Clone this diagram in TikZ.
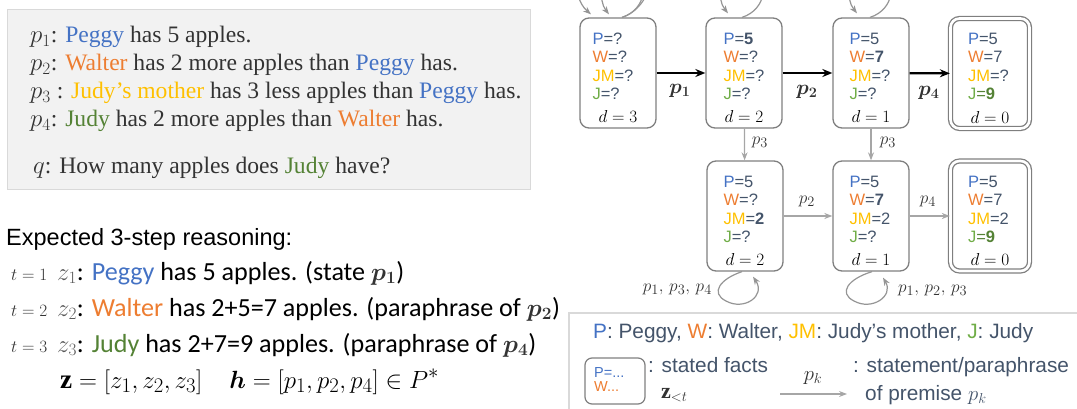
\documentclass[tikz,border=0pt]{standalone}
\usepackage{fontspec}
\usepackage{amsmath,bm}
\setmainfont{Liberation Serif}
\newfontfamily\arial{Liberation Sans}
\newfontfamily\calib{Carlito}
\usetikzlibrary{arrows.meta}

\definecolor{cP}{HTML}{4472C4}
\definecolor{cW}{HTML}{ED7D31}
\definecolor{cJM}{HTML}{FFC000}
\definecolor{cJ}{HTML}{70AD47}
\definecolor{cJd}{HTML}{548235}
\definecolor{cText}{HTML}{333333}
\definecolor{cSlate}{HTML}{44546A}
\definecolor{cGray}{HTML}{595959}
\definecolor{cBox}{HTML}{7F7F7F}
\definecolor{cArrow}{HTML}{A6A6A6}
\definecolor{cFrame}{HTML}{D9D9D9}
\definecolor{cBg}{HTML}{F2F2F2}

% one state box: name, left indent, P, W, JM, J, d
\newcommand\statefacts[7]{%
  \path ([shift={(#2,27)}]#1.north west) node[fact] (#1-p) {\textcolor{cP}{P}=#3}
        ([shift={(#2,45)}]#1.north west) node[fact] (#1-w) {\textcolor{cW}{W}=#4}
        ([shift={(#2,64)}]#1.north west) node[fact] (#1-jm) {\textcolor{cJM}{JM}=#5}
        ([shift={(#2,82)}]#1.north west) node[fact] (#1-j) {\textcolor{cJ}{J}#6}
        ([shift={(0,-6)}]#1.south) node[dline] (#1-d) {$d=#7$};
}

\begin{document}
\begin{tikzpicture}[x=1pt,y=-1pt,
  premise/.style={draw=cFrame, line width=1.2, fill=cBg, anchor=north west,
    minimum width=523, minimum height=180, inner sep=0},
  prem/.style={anchor=base west, inner sep=0, text=cText,
    font=\fontsize{23.6}{27}\selectfont},
  expl/.style={anchor=base west, inner sep=0, font=\arial\fontsize{23.5}{27}\selectfont},
  tlab/.style={anchor=base west, inner sep=0, text=cText, font=\fontsize{16}{16}\selectfont},
  zrow/.style={anchor=base west, inner sep=0, font=\calib\fontsize{26.1}{30}\selectfont},
  state/.style={draw=cBox, line width=1.3, rounded corners=9,
    minimum width=76, minimum height=110, inner sep=0},
  final/.style={state, double, double distance=2.6, minimum width=79, minimum height=110},
  fact/.style={anchor=base west, inner sep=0, text=cSlate,
    font=\arial\fontsize{16.5}{16.5}\selectfont},
  dline/.style={anchor=base, inner sep=0, font=\fontsize{17.5}{17.5}\selectfont},
  mainstep/.style={line width=2.2, -{Stealth[length=10pt,width=8pt]}},
  alt/.style={draw=cArrow, line width=1.2, -{Stealth[length=8pt,width=6pt]}},
  selfloop/.style={draw=cArrow!90!black, line width=1.2, -{Stealth[length=8pt,width=6pt]}},
  plab/.style={inner sep=0, text=cText, font=\fontsize{19}{19}\selectfont},
  leg/.style={anchor=base west, inner sep=0, text=cSlate,
    font=\arial\fontsize{20.8}{24}\selectfont}]

\useasboundingbox (0,0) rectangle (1077,409);
\clip (0,0) rectangle (1077,409);

% premises and question
\node[premise] (prem) at (7,9) {};
\node[prem] (l1) at (30,43) {$p_1$: \textcolor{cP}{Peggy} has 5 apples.};
\node[prem] (l2) at (30,71) {$p_2$: \textcolor{cW}{Walter} has 2 more apples than \textcolor{cP}{Peggy} has.};
\node[prem] (l3) at (30,99) {$p_3$ : \textcolor{cJM}{Judy’s mother} has 3 less apples than \textcolor{cP}{Peggy} has.};
\node[prem] (l4) at (30,127) {$p_4$: \textcolor{cJd}{Judy} has 2 more apples than \textcolor{cW}{Walter} has.};
\node[prem] (lq) at (33,174) {$q$: How many apples does \textcolor{cJd}{Judy} have?};

% expected reasoning
\node[expl] (ex) at (6,245) {Expected 3-step reasoning:};
\node[tlab] (t1) at (11,280) {$t=1$};
\node[tlab] (t2) at (11,316) {$t=2$};
\node[tlab] (t3) at (11,352) {$t=3$};
\node[zrow] (z1) at (57,280) {{\color{cGray}$z_1$}: \textcolor{cP}{Peggy} has 5 apples. (state {\color{cText}$\bm{p_1}$})};
\node[zrow] (z2) at (57,316) {{\color{cGray}$z_2$}: \textcolor{cW}{Walter} has 2+5=7 apples. (paraphrase of {\color{cText}$\bm{p_2}$})};
\node[zrow] (z3) at (57,352) {{\color{cGray}$z_3$}: \textcolor{cJd}{Judy} has 2+7=9 apples. (paraphrase of {\color{cText}$\bm{p_4}$})};
\node[anchor=base west, inner sep=0, font=\fontsize{27.2}{27.2}\selectfont] (zh) at (60,388)
  {$\mathbf{z}=[z_1,z_2,z_3]\quad \bm{h}=[p_1,p_2,p_4]\in P^{*}$};

% state boxes, first row
\node[state] (s1) at (618,73) {};
\node[state] (s2) at (744,73) {};
\node[state] (s3) at (871,73) {};
\node[final] (s4) at (990,73.5) {};
% state boxes, second row
\node[state] (s5) at (745,216) {};
\node[state] (s6) at (871,216) {};
\node[final] (s7) at (990,216) {};

\statefacts{s1}{13}{?}{?}{?}{=?}{3}
\statefacts{s2}{18}{\textbf{5}}{?}{?}{=?}{2}
\statefacts{s3}{17}{5}{\textbf{7}}{?}{=?}{1}
\statefacts{s4}{18}{5}{7}{?}{\textcolor{cJd}{=\textbf{9}}}{0}
\statefacts{s5}{17}{5}{?}{\textbf{2}}{=?}{2}
\statefacts{s6}{17}{5}{\textbf{7}}{2}{=?}{1}
\statefacts{s7}{18}{5}{7}{2}{\textcolor{cJd}{=\textbf{9}}}{0}

% main chain
\draw[mainstep] (s1) -- (s2);
\draw[mainstep] (s2) -- (s3);
\draw[mainstep] (s3) -- (s4);
\node[plab, font=\fontsize{20}{20}\selectfont] (a1) at (680,91) {$\bm{p_1}$};
\node[plab, font=\fontsize{20}{20}\selectfont] (a2) at (807,92) {$\bm{p_2}$};
\node[plab, font=\fontsize{20}{20}\selectfont] (a3) at (929,93) {$\bm{p_4}$};

% alternative chain
\draw[alt] (s2) -- (s5);
\draw[alt] (s3) -- (s6);
\draw[alt] (s5) -- (s6);
\draw[alt] (s6) -- (s7);
\node[plab] (b1) at (760,142) {$p_3$};
\node[plab] (b2) at (888,142) {$p_3$};
\node[plab] (b3) at (807,201) {$p_2$};
\node[plab] (b4) at (928,201) {$p_4$};

% self loops above the first row
\draw[selfloop] ([shift={(4,0)}]s1.north) .. controls (646,10) and (652,-22) .. (625,-22)
  .. controls (600,-22) and (598,0) .. ([shift={(-9,-3)}]s1.north);
\draw[selfloop] ([shift={(4,0)}]s1.north) .. controls (652,8) and (668,-45) .. (615,-45)
  .. controls (572,-45) and (570,-4) .. ([shift={(-27,-3)}]s1.north);
\draw[selfloop] ([shift={(-2,0)}]s2.north) .. controls (766,10) and (772,-22) .. (745,-22)
  .. controls (720,-22) and (716,-2) .. ([shift={(-16,-4)}]s2.north);
\draw[selfloop] ([shift={(-1,0)}]s3.north) .. controls (894,10) and (900,-22) .. (872,-22)
  .. controls (848,-22) and (845,-2) .. ([shift={(-14,-4)}]s3.north);

% self loops below the second row
\draw[selfloop] ([shift={(-3,0)}]s5.south) .. controls (720,279) and (710,293) .. (726,301)
  .. controls (744,311) and (766,296) .. ([shift={(8,5)}]s5.south);
\draw[selfloop] ([shift={(1,0)}]s6.south) .. controls (848,279) and (838,293) .. (854,301)
  .. controls (872,311) and (894,296) .. ([shift={(12,6)}]s6.south);
\node[plab, anchor=east] (c1) at (712,289) {$p_1,\,p_3,\,p_4$};
\node[plab, anchor=west] (c2) at (898,290) {$p_1,\,p_2,\,p_3$};

% legend
\node[draw=cFrame, line width=1.5, anchor=north west, minimum width=530,
  minimum height=110, inner sep=0] (legend) at (568,312) {};
\node[leg] (lg1) at (593,338) {\textcolor{cP}{P}: Peggy, \textcolor{cW}{W}: Walter,
  \textcolor{cJM}{JM}: Judy’s mother, \textcolor{cJ}{J}: Judy};
\node[draw=cBox, line width=1.2, rounded corners=7, minimum width=60,
  minimum height=46, inner sep=0] (lgbox) at (615,381) {};
\node[anchor=base west, inner sep=0, font=\arial\fontsize{14.5}{14.5}\selectfont, text=cP]
  (lgp) at (594,377) {P=...};
\node[anchor=base west, inner sep=0, font=\arial\fontsize{14.5}{14.5}\selectfont, text=cW]
  (lgw) at (594,391) {W...};
\node[leg] (lg2) at (648,372) {: stated facts};
\node[plab, anchor=base west, font=\fontsize{22}{22}\selectfont] (lg3) at (661,398) {$\mathbf{z}_{<t}$};
\coordinate (kfrom) at (780,394);
\coordinate (kto) at (847,394);
\draw[alt] (kfrom) -- (kto);
\node[plab, font=\fontsize{20}{20}\selectfont] (lgk) at (813,378) {$p_k$};
\node[leg] (lg4) at (853,372) {: statement/paraphrase};
\node[leg] (lg5) at (865,400) {of premise $p_k$};

\end{tikzpicture}
\end{document}
